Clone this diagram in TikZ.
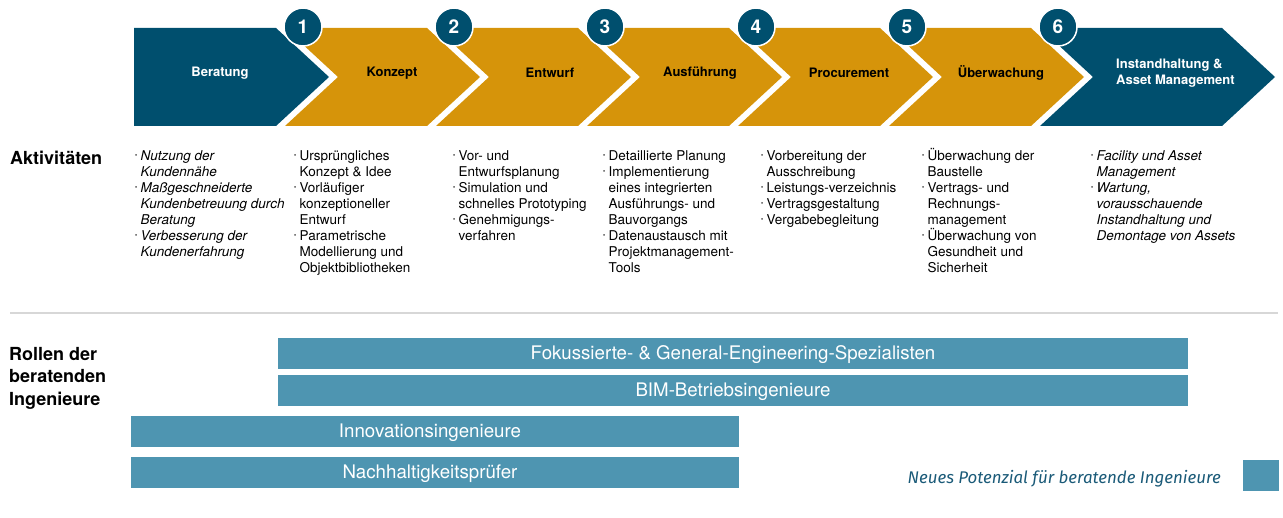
\documentclass[tikz,border=0pt]{standalone}
\usepackage{fontspec}
\usepackage{graphicx}
\setmainfont{TeX Gyre Heros}
\newfontfamily\legfont{Fira Sans}
\definecolor{dblue}{RGB}{0,79,110}
\definecolor{gold}{RGB}{214,148,10}
\definecolor{barc}{RGB}{78,149,177}
\definecolor{legc}{RGB}{26,90,120}
\definecolor{sepc}{RGB}{215,215,215}
\newcommand\bu{\makebox[5.5pt][l]{\raisebox{0.35ex}{\scalebox{0.45}{\textbullet}}}}
\newcommand\cn{\hspace*{5.5pt}}
\newcommand\tp{\rule{0pt}{13pt}}
\tikzset{
  chevlabel/.style={font=\fontsize{13}{16}\selectfont\bfseries, inner sep=0pt},
  numcirc/.style={circle, fill=dblue, draw=white, line width=1.5pt, minimum size=38pt, inner sep=0pt, text=white, font=\fontsize{19}{19}\selectfont\bfseries},
  actcol/.style={anchor=north west, inner sep=0pt, align=left, font=\fontsize{13.5}{16}\selectfont},
  heading/.style={anchor=north west, inner sep=0pt, align=left, font=\fontsize{18}{22.5}\selectfont\bfseries},
  barbox/.style={rectangle, fill=barc, inner sep=0pt, text=white, text height=13.4pt, text depth=1pt, font=\fontsize{18.7}{18.7}\selectfont},
}
\begin{document}
\begin{tikzpicture}[x=1pt,y=-1pt]
\useasboundingbox (0,0) rectangle (1283,518);
% chevrons
\fill[dblue] (134,28) -- (276,28) -- (329,77) -- (276,126) -- (134,126) -- cycle;
\foreach \p/\t in {329/480, 480/631, 631/782, 782/933, 933/1084}{
  \fill[gold] (\p+9-53,28) -- (\t-53,28) -- (\t,77) -- (\t-53,126) -- (\p+9-53,126) -- (\p+9,77) -- cycle;
}
\fill[dblue] (1040,28) -- (1222,28) -- (1275,77) -- (1222,126) -- (1040,126) -- (1093,77) -- cycle;
% chevron labels
\node[chevlabel, text=white] (l0) at (220,73) {Beratung};
\node[chevlabel] (l1) at (392,73) {Konzept};
\node[chevlabel] (l2) at (550,73) {Entwurf};
\node[chevlabel] (l3) at (700,73) {Ausführung};
\node[chevlabel] (l4) at (849,73) {Procurement};
\node[chevlabel] (l5) at (1001,73) {Überwachung};
\node[chevlabel, text=white, anchor=west, align=left] (l6) at (1116,73) {Instandhaltung \&\\Asset Management};
% number circles
\foreach \i in {1,...,6}{
  \node[numcirc] (c\i) at ({303+151*(\i-1)},27) {\i};
}
% headings
\node[heading] (akt) at (10,151) {\rule{0pt}{13pt}Aktivitäten};
\node[heading] (rol) at (9,347) {\rule{0pt}{13pt}Rollen der\\beratenden\\Ingenieure};
% activity columns
\node[actcol] (a0) at (135,147) {\tp\bu\textit{Nutzung der}\\
\cn\textit{Kundennähe}\\
\bu\textit{Maßgeschneiderte}\\
\cn\textit{Kundenbetreuung durch}\\
\cn\textit{Beratung}\\
\bu\textit{Verbesserung der}\\
\cn\textit{Kundenerfahrung}};
\node[actcol] (a1) at (294,147) {\tp\bu Ursprüngliches\\
\cn Konzept \& Idee\\
\bu Vorläufiger\\
\cn konzeptioneller\\
\cn Entwurf\\
\bu Parametrische\\
\cn Modellierung und\\
\cn Objektbibliotheken};
\node[actcol] (a2) at (453,147) {\tp\bu Vor- und\\
\cn Entwurfsplanung\\
\bu Simulation und\\
\cn schnelles Prototyping\\
\bu Genehmigungs-\\
\cn verfahren};
\node[actcol] (a3) at (603,147) {\tp\bu Detaillierte Planung\\
\bu Implementierung\\
\cn eines integrierten\\
\cn Ausführungs- und\\
\cn Bauvorgangs\\
\bu Datenaustausch mit\\
\cn Projektmanagement-\\
\cn Tools};
\node[actcol] (a4) at (761,147) {\tp\bu Vorbereitung der\\
\cn Ausschreibung\\
\bu Leistungs-verzeichnis\\
\bu Vertragsgestaltung\\
\bu Vergabebegleitung};
\node[actcol] (a5) at (922,147) {\tp\bu Überwachung der\\
\cn Baustelle\\
\bu Vertrags- und\\
\cn Rechnungs-\\
\cn management\\
\bu Überwachung von\\
\cn Gesundheit und\\
\cn Sicherheit};
\node[actcol] (a6) at (1091,147) {\tp\bu\textit{Facility und Asset}\\
\cn\textit{Management}\\
\bu\textit{Wartung,}\\
\cn\textit{vorausschauende}\\
\cn\textit{Instandhaltung und}\\
\cn\textit{Demontage von Assets}};
% separator
\coordinate (s1) at (10,313);
\coordinate (s2) at (1278,313);
\draw[sepc, line width=1.5pt] (s1) -- (s2);
% role bars
\node[barbox, minimum width=910pt, minimum height=31pt] (r1) at (733,353.5) {Fokussierte- \& General-Engineering-Spezialisten};
\node[barbox, minimum width=910pt, minimum height=31pt] (r2) at (733,390.5) {BIM-Betriebsingenieure};
\node[barbox, minimum width=608pt, minimum height=31pt] (r3) at (435,431.5) {\hspace*{-10pt}Innovationsingenieure};
\node[barbox, minimum width=608pt, minimum height=31pt] (r4) at (435,472.5) {\hspace*{-10pt}Nachhaltigkeitsprüfer};
% legend
\node[rectangle, fill=barc, minimum width=36pt, minimum height=31pt, inner sep=0pt] (leg) at (1261,475.5) {};
\node[anchor=base east, inner sep=0pt, text=legc, font=\legfont\itshape\fontsize{16.9}{16.9}\selectfont] (legt) at (1221,483) {Neues Potenzial für beratende Ingenieure};
\end{tikzpicture}
\end{document}
